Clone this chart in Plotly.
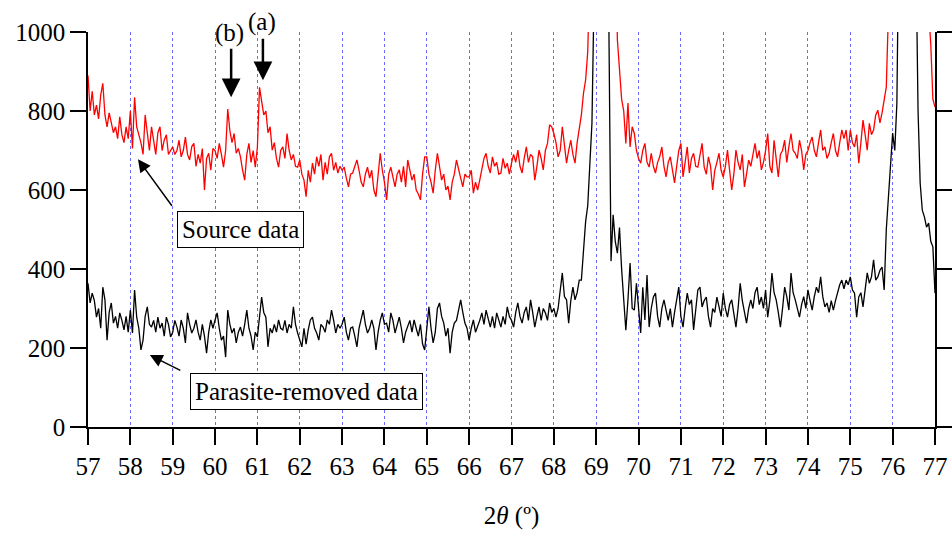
import numpy as np
import plotly.graph_objects as go

# 2theta sampling grid (degrees), 0.05 step from 57 to 77
two_theta = np.round(57 + 0.05 * np.arange(401), 2)

# Source data (red), one row per degree (20 samples each)
source = (
    [890, 800, 850, 790, 815, 780, 840, 870, 790, 760, 795, 770, 745, 760, 730, 785, 740, 720, 760, 730] +
    [800, 705, 835, 760, 740, 720, 690, 790, 745, 700, 760, 720, 690, 745, 760, 700, 726, 740, 690, 700] +
    [709, 690, 700, 726, 684, 700, 734, 690, 676, 710, 718, 660, 690, 668, 705, 600, 680, 693, 650, 705] +
    [700, 680, 718, 690, 658, 700, 805, 750, 720, 743, 693, 705, 684, 650, 625, 690, 718, 670, 700, 658] +
    [709, 860, 820, 790, 800, 745, 760, 701, 720, 680, 658, 700, 709, 680, 743, 700, 676, 690, 660, 658] +
    [676, 640, 625, 583, 650, 620, 668, 640, 684, 660, 690, 625, 670, 640, 684, 693, 650, 670, 643, 660] +
    [650, 658, 630, 608, 640, 643, 660, 676, 650, 620, 608, 640, 658, 630, 650, 600, 583, 640, 693, 650] +
    [620, 575, 640, 658, 630, 608, 640, 651, 620, 660, 608, 676, 650, 625, 640, 600, 590, 575, 640, 684] +
    [684, 640, 620, 592, 650, 693, 660, 625, 640, 600, 610, 575, 620, 640, 676, 650, 630, 608, 640, 633] +
    [633, 650, 592, 620, 600, 625, 650, 680, 693, 660, 643, 684, 660, 670, 640, 643, 680, 655, 668, 640] +
    [668, 690, 670, 701, 660, 643, 680, 709, 670, 690, 684, 625, 660, 701, 680, 651, 700, 718, 765, 760] +
    [743, 720, 684, 700, 760, 720, 668, 700, 726, 690, 668, 720, 750, 790, 845, 878, 950, 1150, 1600, 2500] +
    [3000, 3000, 3000, 3000, 3000, 3000, 3000, 2500, 1700, 1300, 980, 900, 830, 800, 718, 820, 709, 760, 743, 700] +
    [680, 668, 700, 718, 670, 658, 693, 660, 643, 670, 684, 709, 660, 633, 670, 684, 650, 618, 660, 700] +
    [718, 633, 670, 709, 643, 680, 693, 660, 658, 690, 718, 658, 640, 684, 660, 600, 650, 670, 693, 650] +
    [633, 660, 701, 650, 600, 640, 701, 670, 651, 690, 608, 640, 676, 660, 690, 718, 680, 700, 651, 670] +
    [700, 743, 660, 643, 726, 680, 633, 690, 700, 726, 670, 710, 743, 700, 693, 680, 726, 700, 651, 690] +
    [700, 720, 734, 700, 684, 720, 752, 700, 709, 680, 693, 720, 743, 700, 684, 720, 752, 730, 752, 700] +
    [752, 720, 709, 740, 668, 720, 777, 740, 701, 769, 740, 752, 790, 802, 770, 795, 828, 861, 1050, 1500] +
    [2200, 3000, 3000, 3000, 3000, 3000, 3000, 3000, 3000, 3000, 3000, 3000, 3000, 3000, 3000, 2200, 1500, 1050, 970, 830] +
    [810]
)

# Parasite-removed data (black)
removed = (
    [364, 314, 339, 320, 278, 300, 250, 354, 322, 220, 290, 314, 263, 280, 250, 289, 270, 246, 280, 240] +
    [296, 238, 347, 278, 250, 195, 220, 280, 304, 260, 253, 270, 240, 278, 250, 263, 230, 278, 260, 228] +
    [240, 270, 253, 230, 271, 250, 213, 289, 260, 238, 250, 271, 240, 220, 260, 230, 187, 240, 271, 250] +
    [271, 289, 250, 220, 230, 177, 296, 260, 238, 250, 213, 240, 253, 230, 260, 296, 250, 230, 195, 240] +
    [228, 280, 329, 290, 278, 203, 250, 238, 260, 240, 271, 250, 246, 270, 238, 260, 250, 304, 260, 238] +
    [220, 203, 250, 210, 246, 271, 278, 250, 238, 220, 260, 253, 240, 271, 260, 296, 270, 238, 260, 250] +
    [260, 278, 240, 220, 250, 253, 230, 203, 250, 270, 296, 260, 238, 250, 271, 250, 195, 240, 270, 289] +
    [260, 263, 240, 289, 270, 238, 260, 278, 250, 213, 240, 253, 270, 240, 271, 250, 230, 260, 210, 195] +
    [260, 304, 250, 213, 240, 300, 314, 280, 263, 230, 250, 187, 240, 263, 270, 300, 322, 290, 263, 250] +
    [220, 250, 271, 240, 253, 270, 289, 260, 296, 270, 253, 280, 250, 289, 270, 253, 280, 260, 304, 280] +
    [270, 253, 290, 314, 280, 263, 290, 304, 270, 322, 290, 253, 280, 304, 270, 300, 289, 270, 314, 290] +
    [300, 278, 300, 340, 390, 330, 322, 263, 320, 354, 322, 340, 372, 372, 445, 520, 560, 650, 770, 1100] +
    [2500, 3000, 3000, 3000, 2500, 1600, 950, 420, 537, 470, 440, 505, 400, 330, 245, 322, 415, 300, 296, 364] +
    [300, 238, 354, 271, 385, 253, 300, 329, 339, 280, 253, 300, 322, 296, 270, 300, 253, 290, 320, 354] +
    [280, 253, 300, 339, 310, 322, 246, 290, 347, 354, 304, 320, 329, 280, 253, 300, 290, 329, 300, 280] +
    [339, 300, 278, 310, 322, 290, 253, 300, 364, 320, 290, 263, 300, 322, 300, 340, 354, 310, 329, 300] +
    [347, 278, 320, 390, 340, 322, 290, 253, 300, 354, 330, 296, 390, 340, 322, 300, 278, 310, 330, 300] +
    [347, 320, 296, 330, 354, 340, 380, 330, 304, 314, 290, 320, 296, 320, 339, 360, 372, 350, 372, 360] +
    [380, 347, 339, 278, 329, 340, 304, 350, 390, 364, 380, 423, 372, 380, 397, 405, 347, 500, 580, 650] +
    [744, 700, 820, 1300, 3000, 3000, 3000, 3000, 3000, 3000, 2200, 1200, 800, 617, 549, 532, 506, 516, 470, 456] +
    [339]
)

x_ticks = list(range(57, 78))
y_ticks = [0, 200, 400, 600, 800, 1000]

FONT = "Liberation Serif, Times New Roman, serif"
FS = 25

fig = go.Figure()
fig.add_trace(go.Scatter(x=two_theta, y=source, mode="lines",
                         line=dict(color="#ff0000", width=1.3), name="Source data"))
fig.add_trace(go.Scatter(x=two_theta, y=removed, mode="lines",
                         line=dict(color="#000000", width=1.3), name="Parasite-removed data"))

fig.update_layout(
    width=952, height=536,
    margin=dict(l=88, r=17, t=32, b=109, autoexpand=False),
    paper_bgcolor="white", plot_bgcolor="white",
    showlegend=False,
    font=dict(family=FONT, size=FS, color="black"),
)
fig.update_xaxes(
    range=[57, 77], tickvals=x_ticks, ticktext=[str(t) for t in x_ticks],
    automargin=False,
    showline=True, linecolor="black", linewidth=1.5,
    ticks="outside", ticklen=16, tickwidth=1.5, tickcolor="black",
    showgrid=True, gridcolor="#6a6aff", griddash="dot", gridwidth=1,
    zeroline=False,
    tickfont=dict(family=FONT, size=FS),
    title=dict(text="2<i>θ</i> (º)", font=dict(family=FONT, size=FS), standoff=28),
)
fig.update_yaxes(
    range=[0, 1000], tickvals=y_ticks,
    automargin=False,
    showline=True, linecolor="black", linewidth=1.5, mirror="ticks",
    ticks="outside", ticklen=16, tickwidth=1.5, tickcolor="black",
    showgrid=False, zeroline=False,
    tickfont=dict(family=FONT, size=FS),
)

# Peak markers (a) and (b)
fig.add_annotation(x=60.38, y=835, ax=0, ay=-50, text="", showarrow=True,
                   arrowhead=2, arrowsize=1.5, arrowwidth=2.5, arrowcolor="black")
fig.add_annotation(x=60.35, xref="x", y=0.997, yref="paper", yanchor="middle",
                   text="(b)", showarrow=False, font=dict(family=FONT, size=FS))
fig.add_annotation(x=61.13, y=878, ax=0, ay=-43, text="", showarrow=True,
                   arrowhead=2, arrowsize=1.5, arrowwidth=2.5, arrowcolor="black")
fig.add_annotation(x=61.1, xref="x", y=1.025, yref="paper", yanchor="middle",
                   text="(a)", showarrow=False, font=dict(family=FONT, size=FS))

# Series labels with pointers
fig.add_annotation(x=58.18, y=678, ax=35, ay=48, text="", showarrow=True,
                   arrowhead=2, arrowsize=1.7, arrowwidth=1.5, arrowcolor="black")
fig.add_annotation(x=60.61, y=499, text="Source data", showarrow=False,
                   font=dict(family=FONT, size=FS), bgcolor="white",
                   bordercolor="black", borderwidth=1, borderpad=4)
fig.add_annotation(x=58.46, y=182, ax=32, ay=16, text="", showarrow=True,
                   arrowhead=2, arrowsize=1.7, arrowwidth=1.5, arrowcolor="black")
fig.add_annotation(x=62.15, y=89, text="Parasite-removed data", showarrow=False,
                   font=dict(family=FONT, size=FS), bgcolor="white",
                   bordercolor="black", borderwidth=1, borderpad=4)

fig.write_html("out.html")
